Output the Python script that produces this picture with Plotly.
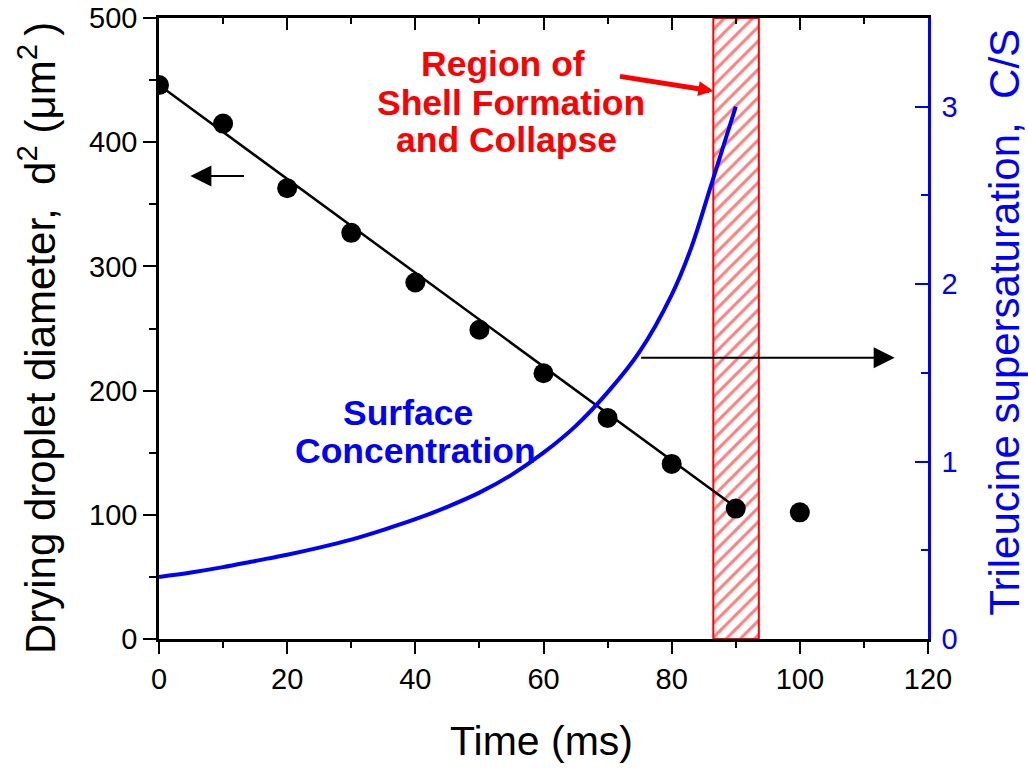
import plotly.graph_objects as go

# ---- data ----
time_ms = [0, 10, 20, 30, 40, 50, 60, 70, 80, 90, 100]
d2_um2 = [446, 415, 363, 327, 287, 249, 214, 178, 141, 105, 102]

fit_x = [0, 90]
fit_y = [446, 106]

conc_x = [0, 5, 10, 15, 20, 25, 30, 35, 40, 45, 50, 55, 60, 65, 70, 75, 80, 83, 86, 88, 90]
conc_y = [0.35, 0.375, 0.405, 0.44, 0.475, 0.515, 0.56, 0.615, 0.675, 0.745, 0.825, 0.925,
          1.05, 1.2, 1.39, 1.62, 1.94, 2.2, 2.54, 2.77, 3.0]

region_x = [86.5, 93.6]
x_range = [0, 120]
y_range = [0, 500]
y2_range = [0, 3.5]

FONT = "Liberation Sans, Arial, sans-serif"
BLUE = "#0000ff"
RED = "#ff0000"

fig = go.Figure()

# hatched region
fig.add_trace(go.Scatter(
    x=[region_x[0], region_x[1], region_x[1], region_x[0], region_x[0]],
    y=[y_range[0], y_range[0], y_range[1], y_range[1], y_range[0]],
    mode="lines", fill="toself",
    line=dict(color=RED, width=2),
    fillcolor="rgba(0,0,0,0)",
    fillpattern=dict(shape="/", fgcolor=RED, bgcolor="white", size=10, solidity=0.3),
    showlegend=False, hoverinfo="skip", xaxis="x", yaxis="y"))

# fit line
fig.add_trace(go.Scatter(x=fit_x, y=fit_y, mode="lines",
                         line=dict(color="black", width=2.5),
                         showlegend=False, xaxis="x", yaxis="y"))
# data points
fig.add_trace(go.Scatter(x=time_ms, y=d2_um2, mode="markers",
                         marker=dict(color="black", size=20),
                         showlegend=False, xaxis="x", yaxis="y"))
# surface concentration curve
fig.add_trace(go.Scatter(x=conc_x, y=conc_y, mode="lines",
                         line=dict(color=BLUE, width=4, shape="spline"),
                         showlegend=False, xaxis="x", yaxis="y2"))

annotations = []
# red text
for txt, x, y in [("Region of", 53.7, 462.6), ("Shell Formation", 55.0, 431.5),
                  ("and Collapse", 54.3, 401.5)]:
    annotations.append(dict(x=x, y=y, xref="x", yref="y", text="<b>%s</b>" % txt,
                            showarrow=False, xanchor="center", yanchor="middle",
                            font=dict(family=FONT, size=35.5, color=RED)))
# blue text
for txt, x, y in [("Surface", 38.9, 181.7), ("Concentration", 40.1, 151.5)]:
    annotations.append(dict(x=x, y=y, xref="x", yref="y", text="<b>%s</b>" % txt,
                            showarrow=False, xanchor="center", yanchor="middle",
                            font=dict(family=FONT, size=35.5, color=BLUE)))
# red arrow
annotations.append(dict(x=86.5, y=441.2, ax=71.7, ay=453.2, xref="x", yref="y",
                        axref="x", ayref="y", text="", showarrow=True,
                        arrowhead=2, arrowsize=0.6, arrowwidth=5, arrowcolor=RED))
# black left arrow
annotations.append(dict(x=4.9, y=372.7, ax=13.5, ay=372.7, xref="x", yref="y",
                        axref="x", ayref="y", text="", showarrow=True,
                        arrowhead=2, arrowsize=2.1, arrowwidth=2, arrowcolor="black"))
# black right arrow
annotations.append(dict(x=114.8, y=226.5, ax=75.0, ay=226.5, xref="x", yref="y",
                        axref="x", ayref="y", text="", showarrow=True,
                        arrowhead=2, arrowsize=2.1, arrowwidth=2, arrowcolor="black"))

# axis titles
annotations.append(dict(x=0.498, y=-0.1639, xref="paper", yref="paper",
                        text="Time (ms)", showarrow=False,
                        xanchor="center", yanchor="middle",
                        font=dict(family=FONT, size=41, color="black")))
annotations.append(dict(x=-0.1585, y=0.4847, xref="paper", yref="paper",
                        text="Drying droplet diameter,\u00a0\u00a0d<sup>2</sup> (\u03bcm<sup>2\u00a0</sup>)",
                        showarrow=False, textangle=-90,
                        xanchor="center", yanchor="middle",
                        font=dict(family=FONT, size=42, color="black")))
annotations.append(dict(x=1.0997, y=0.5105, xref="paper", yref="paper",
                        text="Trileucine supersaturation,\u00a0\u00a0C/S",
                        showarrow=False, textangle=-90,
                        xanchor="center", yanchor="middle",
                        font=dict(family=FONT, size=42, color=BLUE)))

fig.update_layout(
    width=1028, height=769,
    margin=dict(l=159, r=100, t=18, b=130, pad=0, autoexpand=False),
    paper_bgcolor="white", plot_bgcolor="white",
    font=dict(family=FONT, size=29, color="black"),
    showlegend=False,
    annotations=annotations,
    xaxis=dict(range=x_range, dtick=20, tick0=0, showgrid=False, zeroline=False,
               showline=True, linecolor="black", linewidth=2.5, automargin=False,
               ticks="outside", ticklen=12, tickwidth=2, tickcolor="black",
               minor=dict(dtick=10, ticks="outside", ticklen=6, tickwidth=2, tickcolor="black"),
               tickfont=dict(size=29)),
    xaxis2=dict(range=x_range, dtick=20, tick0=0, overlaying="x", side="top", anchor="y",
                showgrid=False, zeroline=False, showline=True, linecolor="black", linewidth=2.5,
                automargin=False,
                ticks="inside", ticklen=12, tickwidth=2, tickcolor="black",
                minor=dict(dtick=10, ticks="inside", ticklen=6, tickwidth=2, tickcolor="black"),
                showticklabels=False),
    yaxis=dict(range=y_range, dtick=100, tick0=0, showgrid=False, zeroline=False,
               showline=True, linecolor="black", linewidth=2.5, automargin=False,
               ticks="outside", ticklen=13, tickwidth=2, tickcolor="black",
               minor=dict(dtick=50, ticks="outside", ticklen=7, tickwidth=2, tickcolor="black"),
               tickfont=dict(size=29)),
    yaxis2=dict(range=y2_range, dtick=1, tick0=0, overlaying="y", side="right", anchor="x",
                showgrid=False, zeroline=False, showline=True, linecolor=BLUE, linewidth=2.5,
                automargin=False,
                ticks="inside", ticklen=13, tickwidth=2, tickcolor=BLUE,
                minor=dict(dtick=0.5, ticks="inside", ticklen=7, tickwidth=2, tickcolor=BLUE),
                tickfont=dict(size=29, color=BLUE), ticklabelstandoff=5),
)

# invisible trace to ensure the top axis is drawn
fig.add_trace(go.Scatter(x=[0], y=[0], mode="markers", marker=dict(opacity=0),
                         showlegend=False, hoverinfo="skip", xaxis="x2", yaxis="y"))

fig.write_html("out.html", config={"displayModeBar": False},
               post_script="document.body.style.margin='0';document.body.style.padding='0';")
